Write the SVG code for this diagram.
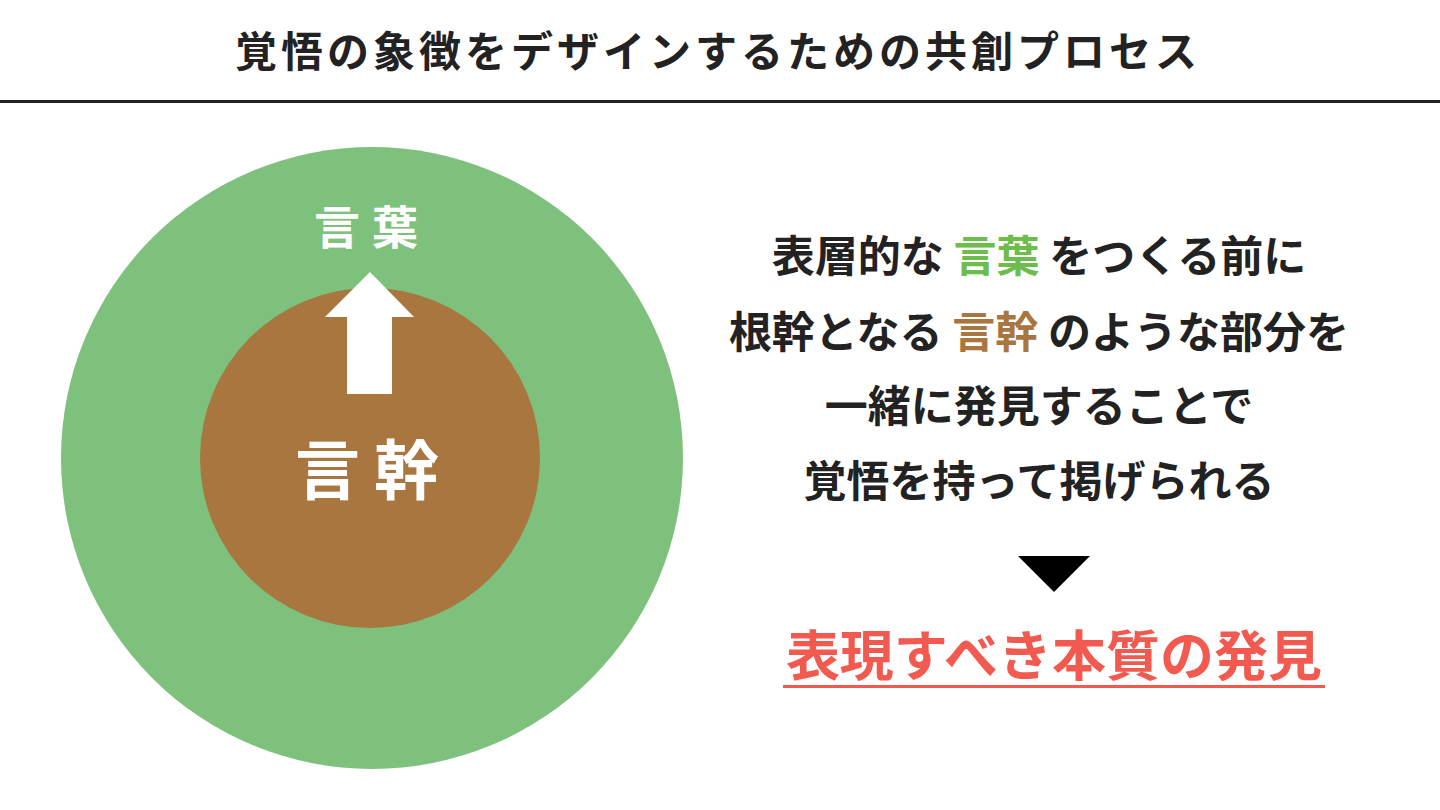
<svg xmlns="http://www.w3.org/2000/svg" width="1440" height="810" viewBox="0 0 1440 810">
<style>
text { font-family: "Noto Sans CJK JP", "Noto Sans", sans-serif; font-weight: 700; }
.title { font-size: 42px; fill: #222; letter-spacing: 4px; }
.body { font-size: 43px; fill: #222; }
.g { fill: #6cbd4c; }
.b { fill: #a8763e; }
.w { fill: #fff; }
.red { font-size: 54px; fill: #f25a4f; }
</style>
<rect width="1440" height="810" fill="#fff"/>
<g id="title">
<text class="title" x="718" y="67" text-anchor="middle">覚悟の象徴をデザインするための共創プロセス</text>
<rect x="0" y="100" width="1440" height="3" fill="#222"/>
</g>
<g id="outer-circle">
<circle cx="372" cy="458" r="311" fill="#7dc17d"/>
<text class="w" x="372" y="244" font-size="46" letter-spacing="12" text-anchor="middle">言葉</text>
</g>
<g id="inner-circle">
<circle cx="370" cy="458" r="170" fill="#a8763e"/>
<text class="w" x="374" y="494" font-size="65" letter-spacing="14" text-anchor="middle">言幹</text>
</g>
<g id="connectors">
<polygon points="370,272 414,317 392,317 392,394 347,394 347,317 325,317" fill="#fff"/>
<polygon points="1018,556 1090,556 1054,592" fill="#000"/>
</g>
<g id="description">
<text class="body" x="1039" y="272" text-anchor="middle">表層的な <tspan class="g">言葉</tspan> をつくる前に</text>
<text class="body" x="1039" y="348" text-anchor="middle">根幹となる <tspan class="b">言幹</tspan> のような部分を</text>
<text class="body" x="1039" y="422" text-anchor="middle">一緒に発見することで</text>
<text class="body" x="1039" y="497" text-anchor="middle">覚悟を持って掲げられる</text>
</g>
<g id="result">
<text class="red" x="1054" y="676" text-anchor="middle">表現すべき本質の発見</text>
<rect x="783" y="685" width="542" height="3" fill="#f25a4f"/>
</g>
</svg>
